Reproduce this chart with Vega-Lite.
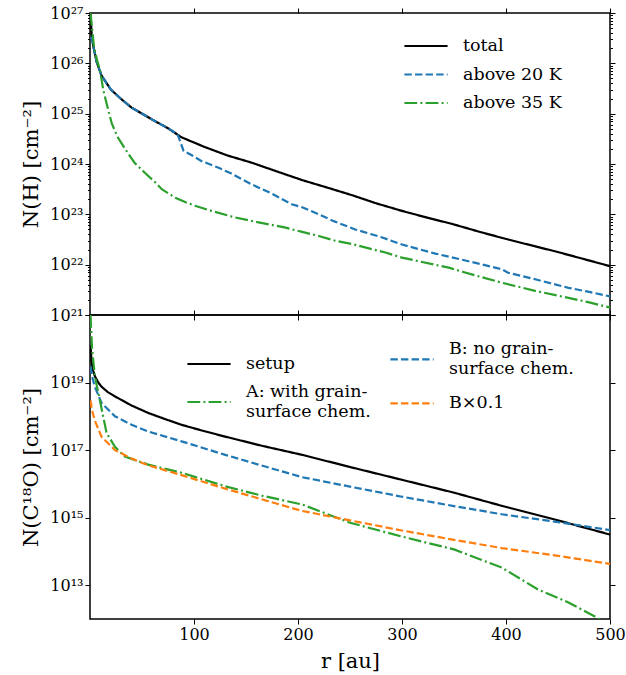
{
  "$schema": "https://vega.github.io/schema/vega-lite/v6.json",
  "padding": {"left": 20, "top": 4, "right": 5, "bottom": 0},
  "spacing": 0,
  "bounds": "flush",
  "config": {
    "font": "DejaVu Serif",
    "view": {"stroke": "black", "strokeWidth": 1.5},
    "axis": {"grid": false, "domain": false, "tickColor": "black", "tickWidth": 1, "tickOpacity": 1, "labelColor": "black", "labelFont": "DejaVu Serif", "labelFontSize": 16, "titleFont": "DejaVu Serif", "titleFontSize": 21, "titleFontWeight": "normal", "titleColor": "black", "labelOverlap": false, "labelFlush": false, "labelBound": false},
    "legend": {"labelFont": "DejaVu Serif", "labelFontSize": 17.5, "labelColor": "black", "symbolType": "M-1.6,0H1.6", "symbolSize": 729, "symbolStrokeWidth": 2.2, "labelOffset": 22, "padding": 0, "labelLimit": 300, "title": null, "orient": "none"}
  },
  "datasets": {
    "nh": [
      {"r": 0.5, "N": 1.0e27, "s": "total"}, {"r": 1.5, "N": 3.98e26, "s": "total"}, {"r": 3.3, "N": 2.14e26, "s": "total"}, {"r": 6.4, "N": 1.07e26, "s": "total"}, {"r": 11, "N": 5.75e25, "s": "total"}, {"r": 20, "N": 3.02e25, "s": "total"}, {"r": 30, "N": 1.95e25, "s": "total"}, {"r": 40, "N": 1.32e25, "s": "total"}, {"r": 60, "N": 7.59e24, "s": "total"}, {"r": 75, "N": 5.13e24, "s": "total"}, {"r": 88, "N": 3.39e24, "s": "total"}, {"r": 110, "N": 2.19e24, "s": "total"}, {"r": 132, "N": 1.48e24, "s": "total"}, {"r": 155, "N": 1.07e24, "s": "total"}, {"r": 180, "N": 7.08e23, "s": "total"}, {"r": 204, "N": 4.79e23, "s": "total"}, {"r": 230, "N": 3.31e23, "s": "total"}, {"r": 252, "N": 2.40e23, "s": "total"}, {"r": 275, "N": 1.66e23, "s": "total"}, {"r": 300, "N": 1.17e23, "s": "total"}, {"r": 325, "N": 8.51e22, "s": "total"}, {"r": 348, "N": 6.46e22, "s": "total"}, {"r": 375, "N": 4.47e22, "s": "total"}, {"r": 400, "N": 3.24e22, "s": "total"}, {"r": 425, "N": 2.40e22, "s": "total"}, {"r": 450, "N": 1.78e22, "s": "total"}, {"r": 475, "N": 1.29e22, "s": "total"}, {"r": 500, "N": 9.33e21, "s": "total"},
      {"r": 0.5, "N": 3.31e26, "s": "above 20 K"}, {"r": 1.5, "N": 3.16e26, "s": "above 20 K"}, {"r": 3.3, "N": 2.14e26, "s": "above 20 K"}, {"r": 6.4, "N": 1.07e26, "s": "above 20 K"}, {"r": 11, "N": 5.75e25, "s": "above 20 K"}, {"r": 20, "N": 3.02e25, "s": "above 20 K"}, {"r": 30, "N": 1.95e25, "s": "above 20 K"}, {"r": 40, "N": 1.32e25, "s": "above 20 K"}, {"r": 60, "N": 7.59e24, "s": "above 20 K"}, {"r": 75, "N": 5.13e24, "s": "above 20 K"}, {"r": 84, "N": 3.98e24, "s": "above 20 K"}, {"r": 90, "N": 1.82e24, "s": "above 20 K"}, {"r": 100, "N": 1.41e24, "s": "above 20 K"}, {"r": 107, "N": 1.15e24, "s": "above 20 K"}, {"r": 123, "N": 8.51e23, "s": "above 20 K"}, {"r": 136, "N": 6.46e23, "s": "above 20 K"}, {"r": 155, "N": 3.98e23, "s": "above 20 K"}, {"r": 175, "N": 2.57e23, "s": "above 20 K"}, {"r": 194, "N": 1.58e23, "s": "above 20 K"}, {"r": 204, "N": 1.38e23, "s": "above 20 K"}, {"r": 220, "N": 1.0e23, "s": "above 20 K"}, {"r": 235, "N": 7.24e22, "s": "above 20 K"}, {"r": 255, "N": 5.01e22, "s": "above 20 K"}, {"r": 281, "N": 3.47e22, "s": "above 20 K"}, {"r": 300, "N": 2.51e22, "s": "above 20 K"}, {"r": 332, "N": 1.66e22, "s": "above 20 K"}, {"r": 364, "N": 1.17e22, "s": "above 20 K"}, {"r": 396, "N": 8.13e21, "s": "above 20 K"}, {"r": 402, "N": 6.92e21, "s": "above 20 K"}, {"r": 428, "N": 5.13e21, "s": "above 20 K"}, {"r": 460, "N": 3.47e21, "s": "above 20 K"}, {"r": 480, "N": 2.88e21, "s": "above 20 K"}, {"r": 500, "N": 2.34e21, "s": "above 20 K"},
      {"r": 0.5, "N": 1.0e27, "s": "above 35 K"}, {"r": 2, "N": 5.01e26, "s": "above 35 K"}, {"r": 4, "N": 2.0e26, "s": "above 35 K"}, {"r": 7, "N": 1.12e26, "s": "above 35 K"}, {"r": 9.6, "N": 7.24e25, "s": "above 35 K"}, {"r": 12.9, "N": 2.88e25, "s": "above 35 K"}, {"r": 16, "N": 1.58e25, "s": "above 35 K"}, {"r": 21, "N": 6.31e24, "s": "above 35 K"}, {"r": 27, "N": 3.31e24, "s": "above 35 K"}, {"r": 37, "N": 1.58e24, "s": "above 35 K"}, {"r": 43, "N": 1.05e24, "s": "above 35 K"}, {"r": 53, "N": 6.61e23, "s": "above 35 K"}, {"r": 63, "N": 4.27e23, "s": "above 35 K"}, {"r": 69, "N": 3.16e23, "s": "above 35 K"}, {"r": 82, "N": 2.14e23, "s": "above 35 K"}, {"r": 92, "N": 1.74e23, "s": "above 35 K"}, {"r": 101, "N": 1.48e23, "s": "above 35 K"}, {"r": 117, "N": 1.17e23, "s": "above 35 K"}, {"r": 139, "N": 8.71e22, "s": "above 35 K"}, {"r": 155, "N": 7.41e22, "s": "above 35 K"}, {"r": 187, "N": 5.50e22, "s": "above 35 K"}, {"r": 204, "N": 4.47e22, "s": "above 35 K"}, {"r": 220, "N": 3.72e22, "s": "above 35 K"}, {"r": 235, "N": 3.02e22, "s": "above 35 K"}, {"r": 252, "N": 2.57e22, "s": "above 35 K"}, {"r": 284, "N": 1.74e22, "s": "above 35 K"}, {"r": 300, "N": 1.38e22, "s": "above 35 K"}, {"r": 316, "N": 1.17e22, "s": "above 35 K"}, {"r": 345, "N": 8.71e21, "s": "above 35 K"}, {"r": 358, "N": 7.24e21, "s": "above 35 K"}, {"r": 396, "N": 4.37e21, "s": "above 35 K"}, {"r": 428, "N": 3.02e21, "s": "above 35 K"}, {"r": 460, "N": 2.19e21, "s": "above 35 K"}, {"r": 480, "N": 1.78e21, "s": "above 35 K"}, {"r": 500, "N": 1.41e21, "s": "above 35 K"}
    ],
    "co": [
      {"r": 0.5, "N": 1.26e20, "s": "setup"}, {"r": 1.5, "N": 3.98e19, "s": "setup"}, {"r": 3, "N": 2.24e19, "s": "setup"}, {"r": 4.8, "N": 1.51e19, "s": "setup"}, {"r": 8, "N": 1.0e19, "s": "setup"}, {"r": 11, "N": 7.59e18, "s": "setup"}, {"r": 17, "N": 5.25e18, "s": "setup"}, {"r": 24, "N": 3.89e18, "s": "setup"}, {"r": 40, "N": 2.09e18, "s": "setup"}, {"r": 56, "N": 1.26e18, "s": "setup"}, {"r": 72, "N": 8.32e17, "s": "setup"}, {"r": 88, "N": 5.62e17, "s": "setup"}, {"r": 110, "N": 3.63e17, "s": "setup"}, {"r": 130, "N": 2.51e17, "s": "setup"}, {"r": 165, "N": 1.35e17, "s": "setup"}, {"r": 204, "N": 7.24e16, "s": "setup"}, {"r": 250, "N": 3.16e16, "s": "setup"}, {"r": 300, "N": 1.32e16, "s": "setup"}, {"r": 350, "N": 5.5e15, "s": "setup"}, {"r": 396, "N": 2.24e15, "s": "setup"}, {"r": 450, "N": 8.3e14, "s": "setup"}, {"r": 500, "N": 3.16e14, "s": "setup"},
      {"r": 0.5, "N": 2.95e19, "s": "B"}, {"r": 2, "N": 1.5e19, "s": "B"}, {"r": 4.6, "N": 7.59e18, "s": "B"}, {"r": 11, "N": 2.51e18, "s": "B"}, {"r": 24, "N": 1.0e18, "s": "B"}, {"r": 40, "N": 5.62e17, "s": "B"}, {"r": 56, "N": 3.55e17, "s": "B"}, {"r": 88, "N": 1.82e17, "s": "B"}, {"r": 130, "N": 7.24e16, "s": "B"}, {"r": 165, "N": 3.5e16, "s": "B"}, {"r": 204, "N": 1.58e16, "s": "B"}, {"r": 250, "N": 8.3e15, "s": "B"}, {"r": 300, "N": 4.17e15, "s": "B"}, {"r": 350, "N": 2.2e15, "s": "B"}, {"r": 396, "N": 1.26e15, "s": "B"}, {"r": 450, "N": 7.4e14, "s": "B"}, {"r": 500, "N": 4.27e14, "s": "B"},
      {"r": 0.5, "N": 1.0e21, "s": "A"}, {"r": 2, "N": 1.0e20, "s": "A"}, {"r": 4.7, "N": 1.51e19, "s": "A"}, {"r": 9.4, "N": 3.09e18, "s": "A"}, {"r": 16, "N": 3.16e17, "s": "A"}, {"r": 24, "N": 1.26e17, "s": "A"}, {"r": 33.5, "N": 6.46e16, "s": "A"}, {"r": 56, "N": 3.72e16, "s": "A"}, {"r": 88, "N": 2.14e16, "s": "A"}, {"r": 130, "N": 8.51e15, "s": "A"}, {"r": 165, "N": 4.5e15, "s": "A"}, {"r": 204, "N": 2.45e15, "s": "A"}, {"r": 250, "N": 7.08e14, "s": "A"}, {"r": 300, "N": 2.75e14, "s": "A"}, {"r": 350, "N": 1.15e14, "s": "A"}, {"r": 396, "N": 3.31e13, "s": "A"}, {"r": 431, "N": 7.41e12, "s": "A"}, {"r": 460, "N": 3.09e12, "s": "A"}, {"r": 487, "N": 1.12e12, "s": "A"}, {"r": 495, "N": 7.9e11, "s": "A"},
      {"r": 0.5, "N": 2.95e18, "s": "B×0.1"}, {"r": 2, "N": 1.5e18, "s": "B×0.1"}, {"r": 4.6, "N": 7.59e17, "s": "B×0.1"}, {"r": 11, "N": 2.51e17, "s": "B×0.1"}, {"r": 24, "N": 1.0e17, "s": "B×0.1"}, {"r": 40, "N": 5.62e16, "s": "B×0.1"}, {"r": 56, "N": 3.55e16, "s": "B×0.1"}, {"r": 88, "N": 1.82e16, "s": "B×0.1"}, {"r": 130, "N": 7.24e15, "s": "B×0.1"}, {"r": 165, "N": 3.5e15, "s": "B×0.1"}, {"r": 204, "N": 1.58e15, "s": "B×0.1"}, {"r": 250, "N": 8.3e14, "s": "B×0.1"}, {"r": 300, "N": 4.17e14, "s": "B×0.1"}, {"r": 350, "N": 2.2e14, "s": "B×0.1"}, {"r": 396, "N": 1.26e14, "s": "B×0.1"}, {"r": 450, "N": 7.4e13, "s": "B×0.1"}, {"r": 500, "N": 4.27e13, "s": "B×0.1"}
    ]
  },
  "vconcat": [
    {
      "width": 520, "height": 302,
      "data": {"name": "nh"},
      "layer": [
        {
          "mark": {"type": "line", "strokeWidth": 2.2, "clip": true},
          "encoding": {
            "x": {"field": "r", "type": "quantitative", "scale": {"domain": [0, 500]}, "axis": {"orient": "bottom", "values": [100, 200, 300, 400, 500], "labels": false, "tickSize": 5, "title": null}},
            "y": {"field": "N", "type": "quantitative", "scale": {"type": "log", "domain": [1e21, 1e27]}, "axis": {"orient": "left", "title": "N(H) [cm⁻²]", "titlePadding": 8, "labelPadding": 2,
              "values": [1e21,2e21,3e21,4e21,5e21,6e21,7e21,8e21,9e21,1e22,2e22,3e22,4e22,5e22,6e22,7e22,8e22,9e22,1e23,2e23,3e23,4e23,5e23,6e23,7e23,8e23,9e23,1e24,2e24,3e24,4e24,5e24,6e24,7e24,8e24,9e24,1e25,2e25,3e25,4e25,5e25,6e25,7e25,8e25,9e25,1e26,2e26,3e26,4e26,5e26,6e26,7e26,8e26,9e26,1e27],
              "tickSize": {"condition": {"test": "abs(log(datum.value)/LN10 - round(log(datum.value)/LN10)) < 0.001", "value": 5}, "value": 2.5},
              "labelExpr": "abs(log(datum.value)/LN10 - round(log(datum.value)/LN10)) < 0.001 ? '10' + ['⁰','¹','²','³','⁴','⁵','⁶','⁷','⁸','⁹'][floor(round(log(datum.value)/LN10)/10)] + ['⁰','¹','²','³','⁴','⁵','⁶','⁷','⁸','⁹'][round(log(datum.value)/LN10) % 10] : ''"}},
            "stroke": {"field": "s", "type": "nominal", "scale": {"domain": ["total", "above 20 K", "above 35 K"], "range": ["#000000", "#1f77b4", "#2ca02c"]}, "legend": {"legendX": 321, "legendY": 18, "rowPadding": 4.5}},
            "strokeDash": {"field": "s", "type": "nominal", "scale": {"domain": ["total", "above 20 K", "above 35 K"], "range": [[1, 0], [7.4, 3.2], [12.8, 3.2, 2, 3.2]]}, "legend": {"legendX": 321, "legendY": 18, "rowPadding": 4.5}}
          }
        },
        {
          "mark": {"type": "line", "strokeOpacity": 0},
          "encoding": {
            "x": {"field": "r", "type": "quantitative", "scale": {"domain": [0, 500]}, "axis": {"orient": "top", "values": [100, 200, 300, 400, 500], "labels": false, "tickSize": 5, "title": null}},
            "y": {"field": "N", "type": "quantitative", "scale": {"type": "log", "domain": [1e21, 1e27]}, "axis": {"orient": "right", "title": null, "labels": false,
              "values": [1e21,2e21,3e21,4e21,5e21,6e21,7e21,8e21,9e21,1e22,2e22,3e22,4e22,5e22,6e22,7e22,8e22,9e22,1e23,2e23,3e23,4e23,5e23,6e23,7e23,8e23,9e23,1e24,2e24,3e24,4e24,5e24,6e24,7e24,8e24,9e24,1e25,2e25,3e25,4e25,5e25,6e25,7e25,8e25,9e25,1e26,2e26,3e26,4e26,5e26,6e26,7e26,8e26,9e26,1e27],
              "tickSize": {"condition": {"test": "abs(log(datum.value)/LN10 - round(log(datum.value)/LN10)) < 0.001", "value": 5}, "value": 2.5}}},
            "detail": {"field": "s", "type": "nominal"}
          }
        }
      ],
      "resolve": {"axis": {"x": "independent", "y": "independent"}}
    },
    {
      "width": 520, "height": 304,
      "data": {"name": "co"},
      "layer": [
        {
          "transform": [{"filter": "datum.s == 'setup'"}],
          "mark": {"type": "line", "strokeWidth": 2.2, "clip": true},
          "encoding": {
            "x": {"field": "r", "type": "quantitative", "scale": {"domain": [0, 500]}, "axis": {"orient": "bottom", "values": [100, 200, 300, 400, 500], "tickSize": 5, "labelPadding": 2, "title": "r [au]", "titlePadding": 8}},
            "y": {"field": "N", "type": "quantitative", "scale": {"type": "log", "domain": [1e12, 1e21]}, "axis": {"orient": "left", "title": "N(C¹⁸O) [cm⁻²]", "titlePadding": 8, "labelPadding": 2,
              "values": [1e13, 1e15, 1e17, 1e19, 1e21], "tickSize": 5,
              "labelExpr": "datum.value > 5e20 ? '' : '10' + ['⁰','¹','²','³','⁴','⁵','⁶','⁷','⁸','⁹'][floor(round(log(datum.value)/LN10)/10)] + ['⁰','¹','²','³','⁴','⁵','⁶','⁷','⁸','⁹'][round(log(datum.value)/LN10) % 10]"}},
            "stroke": {"field": "s", "type": "nominal", "scale": {"domain": ["setup"], "range": ["#000000"]}, "legend": {"legendX": 104, "legendY": 34, "labelExpr": "'setup'"}},
            "strokeDash": {"field": "s", "type": "nominal", "scale": {"domain": ["setup"], "range": [[1, 0]]}, "legend": {"legendX": 104, "legendY": 34, "labelExpr": "'setup'"}}
          }
        },
        {
          "transform": [{"filter": "datum.s == 'B'"}],
          "mark": {"type": "line", "strokeWidth": 2.2, "clip": true},
          "encoding": {
            "x": {"field": "r", "type": "quantitative", "scale": {"domain": [0, 500]}, "axis": null},
            "y": {"field": "N", "type": "quantitative", "scale": {"type": "log", "domain": [1e12, 1e21]}, "axis": null},
            "stroke": {"field": "s", "type": "nominal", "scale": {"domain": ["B"], "range": ["#1f77b4"]}, "legend": {"legendX": 307, "legendY": 29.3, "labelBaseline": "line-bottom", "labelExpr": "['B: no grain-', 'surface chem.']"}},
            "strokeDash": {"field": "s", "type": "nominal", "scale": {"domain": ["B"], "range": [[7.4, 3.2]]}, "legend": {"legendX": 307, "legendY": 29.3, "labelBaseline": "line-bottom", "labelExpr": "['B: no grain-', 'surface chem.']"}}
          }
        },
        {
          "transform": [{"filter": "datum.s == 'A'"}],
          "mark": {"type": "line", "strokeWidth": 2.2, "clip": true},
          "encoding": {
            "x": {"field": "r", "type": "quantitative", "scale": {"domain": [0, 500]}, "axis": null},
            "y": {"field": "N", "type": "quantitative", "scale": {"type": "log", "domain": [1e12, 1e21]}, "axis": null},
            "stroke": {"field": "s", "type": "nominal", "scale": {"domain": ["A"], "range": ["#2ca02c"]}, "legend": {"legendX": 104, "legendY": 72, "labelBaseline": "line-bottom", "labelExpr": "['A: with grain-', 'surface chem.']"}},
            "strokeDash": {"field": "s", "type": "nominal", "scale": {"domain": ["A"], "range": [[12.8, 3.2, 2, 3.2]]}, "legend": {"legendX": 104, "legendY": 72, "labelBaseline": "line-bottom", "labelExpr": "['A: with grain-', 'surface chem.']"}}
          }
        },
        {
          "transform": [{"filter": "datum.s == 'B×0.1'"}],
          "mark": {"type": "line", "strokeWidth": 2.2, "clip": true},
          "encoding": {
            "x": {"field": "r", "type": "quantitative", "scale": {"domain": [0, 500]}, "axis": null},
            "y": {"field": "N", "type": "quantitative", "scale": {"type": "log", "domain": [1e12, 1e21]}, "axis": null},
            "stroke": {"field": "s", "type": "nominal", "scale": {"domain": ["B×0.1"], "range": ["#ff7f0e"]}, "legend": {"legendX": 307, "legendY": 73.4}},
            "strokeDash": {"field": "s", "type": "nominal", "scale": {"domain": ["B×0.1"], "range": [[7.4, 3.2]]}, "legend": {"legendX": 307, "legendY": 73.4}}
          }
        },
        {
          "mark": {"type": "line", "strokeOpacity": 0},
          "encoding": {
            "x": {"field": "r", "type": "quantitative", "scale": {"domain": [0, 500]}, "axis": {"orient": "top", "values": [100, 200, 300, 400, 500], "labels": false, "tickSize": 5, "title": null}},
            "y": {"field": "N", "type": "quantitative", "scale": {"type": "log", "domain": [1e12, 1e21]}, "axis": {"orient": "right", "title": null, "labels": false, "values": [1e13, 1e15, 1e17, 1e19, 1e21], "tickSize": 5}},
            "detail": {"field": "s", "type": "nominal"}
          }
        }
      ],
      "resolve": {"axis": {"x": "independent", "y": "independent"}, "scale": {"stroke": "independent", "strokeDash": "independent"}}
    }
  ],
  "resolve": {"scale": {"stroke": "independent", "strokeDash": "independent", "y": "independent"}, "legend": {"stroke": "independent", "strokeDash": "independent"}}
}
